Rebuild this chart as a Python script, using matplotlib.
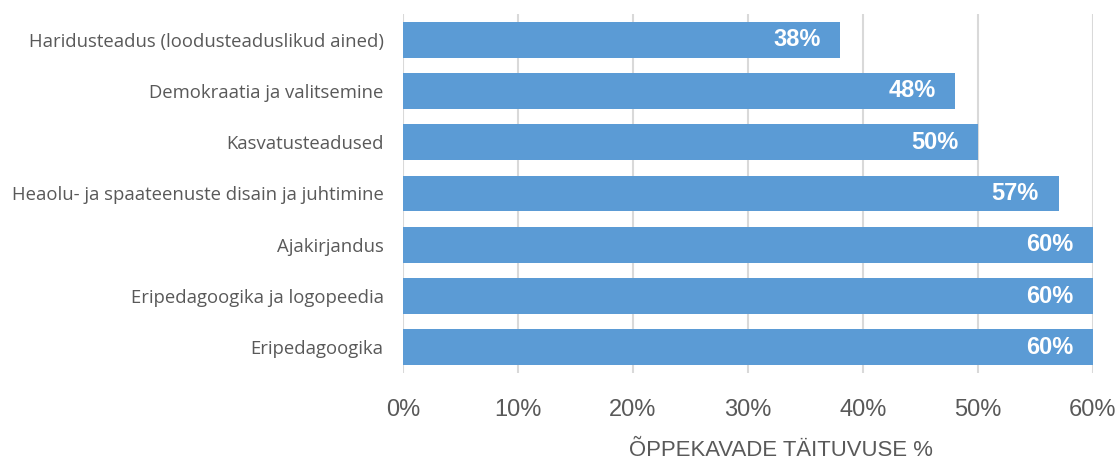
import matplotlib
matplotlib.use("Agg")
import matplotlib.pyplot as plt
from matplotlib.ticker import FuncFormatter

categories = [
    "Haridusteadus (loodusteaduslikud ained)",
    "Demokraatia ja valitsemine",
    "Kasvatusteadused",
    "Heaolu- ja spaateenuste disain ja juhtimine",
    "Ajakirjandus",
    "Eripedagoogika ja logopeedia",
    "Eripedagoogika",
]
values = [38, 48, 50, 57, 60, 60, 60]
xticks = [0, 10, 20, 30, 40, 50, 60]
xlabel = "ÕPPEKAVADE TÄITUVUSE %"

fig = plt.figure(figsize=(11.2, 4.62), dpi=100)
ax = fig.add_axes([403/1120, 1 - 373/462, (1093-403)/1120, (373-14)/462])

ypos = list(range(len(categories)))
ax.barh(ypos, values, height=0.7, color="#5B9BD5", zorder=3)
ax.set_ylim(len(categories) - 0.5, -0.5)
ax.set_xlim(0, 60)
ax.set_yticks(ypos)
ax.set_yticklabels(categories, fontfamily="Open Sans", fontsize=13.3, color="#595959")
ax.set_xticks(xticks)
ax.xaxis.set_major_formatter(FuncFormatter(lambda v, p: f"{int(v)}%"))
for lbl in ax.get_xticklabels():
    lbl.set_fontfamily("Liberation Sans")
    lbl.set_fontsize(17)
    lbl.set_color("#595959")
ax.tick_params(axis="y", length=0, pad=14)
ax.tick_params(axis="x", length=0, pad=19)
ax.grid(axis="x", color="#D9D9D9", linewidth=1.5, zorder=0)
for s in ax.spines.values():
    s.set_visible(False)

for y, v in zip(ypos, values):
    ax.text(v - 1.7, y, f"{v}%", ha="right", va="center", color="white",
            fontweight="bold", fontfamily="Liberation Sans", fontsize=17, zorder=4)

fig.text(781/1120, 1 - 461/462, xlabel, ha="center", va="bottom",
         fontfamily="Liberation Sans", fontsize=15.9, color="#595959")

fig.savefig("out.png", dpi=100)
